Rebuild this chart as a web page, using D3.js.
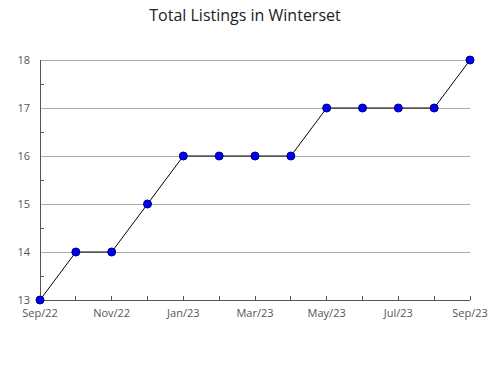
<!DOCTYPE html>
<html>
<head>
<meta charset="utf-8">
<script src="https://cdn.jsdelivr.net/npm/d3@7"></script>
<style>
body{margin:0;background:#fff;}
text{font-family:"Open Sans",sans-serif;}
</style>
</head>
<body>
<svg id="chart" width="490" height="380"></svg>
<script>
// data
var months = ["Sep/22","Oct/22","Nov/22","Dec/22","Jan/23","Feb/23","Mar/23","Apr/23","May/23","Jun/23","Jul/23","Aug/23","Sep/23"];
var listings = [13,14,14,15,16,16,16,16,17,17,17,17,18];
var yTicks = [13,14,15,16,17,18];

var svg = d3.select("#chart");
var margins = {left:40,right:20,top:60,bottom:80};
var width = 490 - margins.left - margins.right;
var height = 380 - margins.top - margins.bottom;

var data = months.map(function(m,i){ return {month:m,value:listings[i]}; });

var x = d3.scalePoint().domain(months).range([0,width]);
var y = d3.scaleLinear().domain([13,18]).range([height,0]);

svg.append("text")
    .attr("x",245).attr("y",21)
    .attr("text-anchor","middle")
    .attr("font-size","16px")
    .attr("fill","#222")
    .text("Total Listings in Winterset");

var g = svg.append("g").attr("transform","translate("+margins.left+","+margins.top+")");

// grid
g.selectAll(".grid").data(yTicks.slice(1)).enter()
    .append("line")
    .attr("x1",0).attr("x2",width)
    .attr("y1",function(d){ return y(d); }).attr("y2",function(d){ return y(d); })
    .attr("stroke","#aaa").attr("stroke-width",1)
    .attr("shape-rendering","crispEdges");

// minor y ticks
g.selectAll(".ytick").data(d3.range(13.5,18,1)).enter()
    .append("line")
    .attr("x1",0).attr("x2",4)
    .attr("y1",function(d){ return y(d); }).attr("y2",function(d){ return y(d); })
    .attr("stroke","#555")
    .attr("shape-rendering","crispEdges");

// x ticks every month
g.selectAll(".xtick").data(months.slice(1)).enter()
    .append("line")
    .attr("x1",function(d){ return x(d); }).attr("x2",function(d){ return x(d); })
    .attr("y1",height).attr("y2",height-4)
    .attr("stroke","#555")
    .attr("shape-rendering","crispEdges");

// axes lines
g.append("line").attr("x1",0).attr("x2",0).attr("y1",0).attr("y2",height)
    .attr("stroke","#555").attr("shape-rendering","crispEdges");
g.append("line").attr("x1",0).attr("x2",width).attr("y1",height).attr("y2",height)
    .attr("stroke","#555").attr("shape-rendering","crispEdges");

// y labels
g.selectAll(".ylab").data(yTicks).enter()
    .append("text")
    .attr("x",-10).attr("y",function(d){ return y(d); })
    .attr("dy","0.35em")
    .attr("text-anchor","end")
    .attr("font-size","11px")
    .attr("fill","#555")
    .text(function(d){ return d; });

// x labels every other month
g.selectAll(".xlab").data(months.filter(function(d,i){ return i%2==0; })).enter()
    .append("text")
    .attr("x",function(d){ return x(d); })
    .attr("y",height+17)
    .attr("text-anchor","middle")
    .attr("font-size","11px")
    .attr("fill","#555")
    .text(function(d){ return d; });

// line
var line = d3.line()
    .x(function(d){ return x(d.month); })
    .y(function(d){ return y(d.value); });
g.append("path").datum(data)
    .attr("d",line)
    .attr("fill","none")
    .attr("stroke","#000")
    .attr("stroke-width",1);

// markers
g.selectAll(".pt").data(data).enter()
    .append("circle")
    .attr("cx",function(d){ return x(d.month); })
    .attr("cy",function(d){ return y(d.value); })
    .attr("r",4)
    .attr("fill","#0000ff")
    .attr("stroke","#000066")
    .attr("stroke-width",1);
</script>
</body>
</html>
